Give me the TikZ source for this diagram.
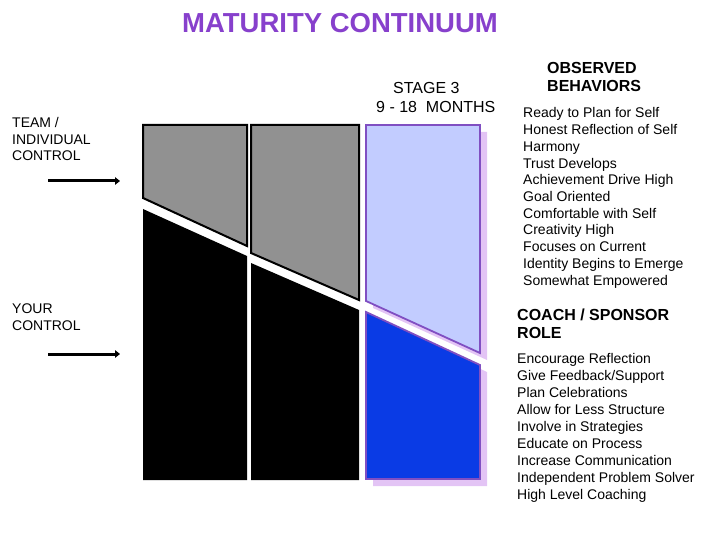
\documentclass[tikz,border=0pt]{standalone}
\usepackage{fontspec}
\setmainfont{Liberation Sans}
\usetikzlibrary{arrows.meta,positioning}
\definecolor{titlepurple}{rgb}{0.53,0.25,0.80}
\definecolor{stagegrey}{rgb}{0.57,0.57,0.57}
\definecolor{paleblue}{rgb}{0.76,0.80,1.00}
\definecolor{deepblue}{rgb}{0.04,0.23,0.90}
\definecolor{edgepurple}{rgb}{0.50,0.31,0.76}
\definecolor{shadelilac}{rgb}{0.89,0.77,0.96}
\tikzset{
  maintitle/.style={
    font=\fontsize{27.5}{32}\selectfont\bfseries,
    text=titlepurple,
    inner sep=0pt,
    anchor=base
  },
  sidetext/.style={
    font=\fontsize{14}{16.5}\selectfont,
    inner sep=0pt,
    anchor=base west
  },
  heading/.style={
    font=\fontsize{16}{19}\selectfont\bfseries,
    inner sep=0pt,
    anchor=base west
  },
  stagetext/.style={
    font=\fontsize{16}{19}\selectfont,
    inner sep=0pt,
    anchor=base west
  },
  listitem/.style={
    font=\fontsize{14}{16.7}\selectfont,
    inner sep=0pt,
    anchor=base west
  },
  greyblock/.style={
    fill=stagegrey,
    draw=black,
    line width=2pt,
    line join=miter
  },
  blackblock/.style={
    fill=black
  },
  paleblock/.style={
    fill=paleblue,
    draw=edgepurple,
    line width=1.8pt
  },
  blueblock/.style={
    fill=deepblue,
    draw=edgepurple,
    line width=1.8pt
  },
  dropshade/.style={
    fill=shadelilac
  },
  arrow/.style={
    -{Triangle[length=5pt,width=7.5pt]},
    line width=3pt,
    black
  }
}
\begin{document}
\begin{tikzpicture}[x=1pt,y=-1pt]
\useasboundingbox (0,0) rectangle (720,540);

% title
\node[maintitle] (title) at (340,33) {MATURITY CONTINUUM};

% stage heading
\node[stagetext] (stage) at (393,94) {STAGE 3};
\node[stagetext] (months) at (376,113) {9 - 18\ \ MONTHS};

% left side
\foreach \txt [count=\i from 0] in {TEAM /,INDIVIDUAL,CONTROL}
  \node[sidetext] (team\i) at (12,{128+16.5*\i}) {\txt};
\foreach \txt [count=\i from 0] in {YOUR,CONTROL}
  \node[sidetext] (your\i) at (12,{313+17*\i}) {\txt};

\coordinate (teamstart) at (48,181);
\coordinate (teamend) at (120,181);
\coordinate (yourstart) at (48,354);
\coordinate (yourend) at (120,354);
\draw[arrow] (teamstart) -- (teamend);
\draw[arrow] (yourstart) -- (yourend);

% stage 1
\draw[greyblock] (143,125) -- (247,125) -- (247,246) -- (143,198) -- cycle;
\fill[blackblock] (143,209) -- (247,256) -- (247,480) -- (143,480) -- cycle;

% stage 2
\draw[greyblock] (251,125) -- (359,125) -- (359,300) -- (251,253) -- cycle;
\fill[blackblock] (251,263) -- (359,310) -- (359,480) -- (251,480) -- cycle;

% stage 3
\fill[dropshade] (373,132) -- (487,132) -- (487,360) -- (373,308) -- cycle;
\fill[dropshade] (373,319) -- (487,372) -- (487,486) -- (373,486) -- cycle;
\draw[paleblock] (366,125) -- (480,125) -- (480,353) -- (366,301) -- cycle;
\draw[blueblock] (366,312) -- (480,365) -- (480,479) -- (366,479) -- cycle;

% observed behaviors
\node[heading] (obshead) at (547,74) {OBSERVED};
\node[heading] (obshead2) at (547,92) {BEHAVIORS};
\foreach \txt [count=\i from 0] in {Ready to Plan for Self,Honest Reflection of Self,Harmony,Trust Develops,Achievement Drive High,Goal Oriented,Comfortable with Self,Creativity High,Focuses on Current,Identity Begins to Emerge,Somewhat Empowered}
  \node[listitem] (obs\i) at (523,{118+16.7*\i}) {\txt};

% coach / sponsor role
\node[heading] (coachhead) at (517,320) {COACH / SPONSOR};
\node[heading] (coachhead2) at (517,338) {ROLE};
\foreach \txt [count=\i from 0] in {Encourage Reflection,Give Feedback/Support,Plan Celebrations,Allow for Less Structure,Involve in Strategies,Educate on Process,Increase Communication,Independent Problem Solver,High Level Coaching}
  \node[listitem] (coach\i) at (517,{363+17*\i}) {\txt};
\end{tikzpicture}
\end{document}
